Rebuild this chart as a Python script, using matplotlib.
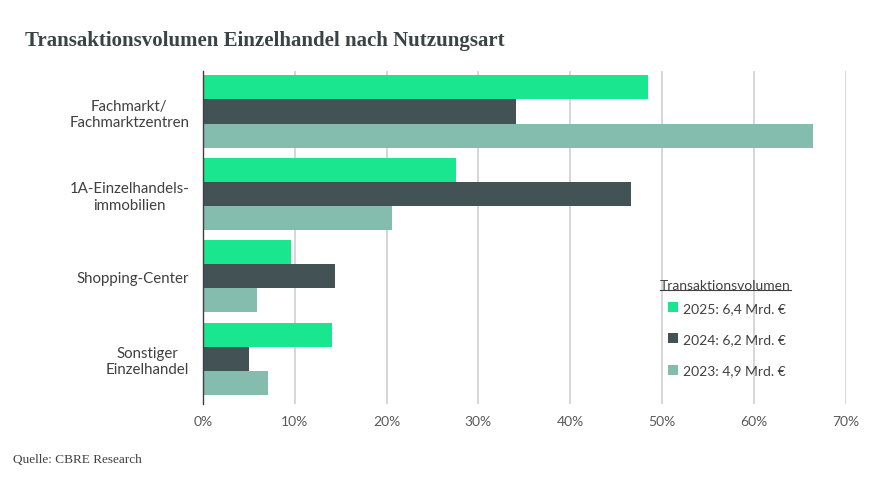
import matplotlib.pyplot as plt
import numpy as np
from matplotlib.lines import Line2D

categories = ['Fachmarkt/\nFachmarktzentren', '1A-Einzelhandels-\nimmobilien',
              'Shopping-Center', 'Sonstiger\nEinzelhandel']
vals_2025 = [48.5, 27.6, 9.6, 14.1]
vals_2024 = [34.1, 46.6, 14.4, 5.0]
vals_2023 = [66.5, 20.6, 5.9, 7.1]
labels = ['2025: 6,4 Mrd. €', '2024: 6,2 Mrd. €', '2023: 4,9 Mrd. €']
colors = ['#19e68e', '#435254', '#84bcae']
xticks = [0, 10, 20, 30, 40, 50, 60, 70]

sans = ['Lato', 'DejaVu Sans']
serif = ['Liberation Serif', 'DejaVu Serif']

fig = plt.figure(figsize=(8.92, 4.81), dpi=100)
ax = fig.add_axes([0.2276, 0.158, 0.7204, 0.692])

y = np.arange(len(categories))
h = 0.292
bars = []
for i, (vals, c) in enumerate(zip([vals_2025, vals_2024, vals_2023], colors)):
    b = ax.barh(y + (i - 1) * h, vals, height=h, color=c, zorder=3)
    bars.append(b)

ax.set_xlim(0, 70)
ax.set_ylim(3.55, -0.49)
ax.set_xticks(xticks)
ax.set_xticklabels([f'{t}%' for t in xticks], family=sans, fontsize=10, color='#595959')
ax.set_yticks(y)
ax.set_yticklabels(categories, family=sans, fontsize=10.8, color='#404040',
                   multialignment='center')
ax.tick_params(axis='x', length=0, pad=8)
ax.tick_params(axis='y', length=0, pad=10)
ax.grid(axis='x', color='#d0d0d0', linewidth=1.2, zorder=0)
for s in ['top', 'right', 'bottom']:
    ax.spines[s].set_visible(False)
ax.spines['left'].set_color('#404040')
ax.spines['left'].set_linewidth(1.0)
ax.spines['left'].set_zorder(4)

# legend entries below a separate underlined title
leg = ax.legend(bars, labels, loc='upper left', bbox_to_anchor=(0.704, 0.345),
                frameon=False, prop={'family': sans, 'size': 10},
                handlelength=0.7, handleheight=0.7, handletextpad=0.4,
                labelspacing=1.4, labelcolor='#404040')

ttl = fig.text(0.74, 0.405, 'Transaktionsvolumen', family=sans, fontsize=10,
               color='#404040', ha='left', va='center')

fig.text(0.028, 0.905, 'Transaktionsvolumen Einzelhandel nach Nutzungsart',
         family=serif, fontsize=15, fontweight='bold', color='#3a4446')
fig.text(0.015, 0.038, 'Quelle: CBRE Research', family=serif, fontsize=9.5,
         color='#404040')

fig.canvas.draw()
bb = ttl.get_window_extent().transformed(fig.transFigure.inverted())
fig.add_artist(Line2D([bb.x0, bb.x1], [bb.y0 + 0.002, bb.y0 + 0.002],
                      transform=fig.transFigure, color='#404040', linewidth=0.8))

fig.savefig('out.png', dpi=100)
